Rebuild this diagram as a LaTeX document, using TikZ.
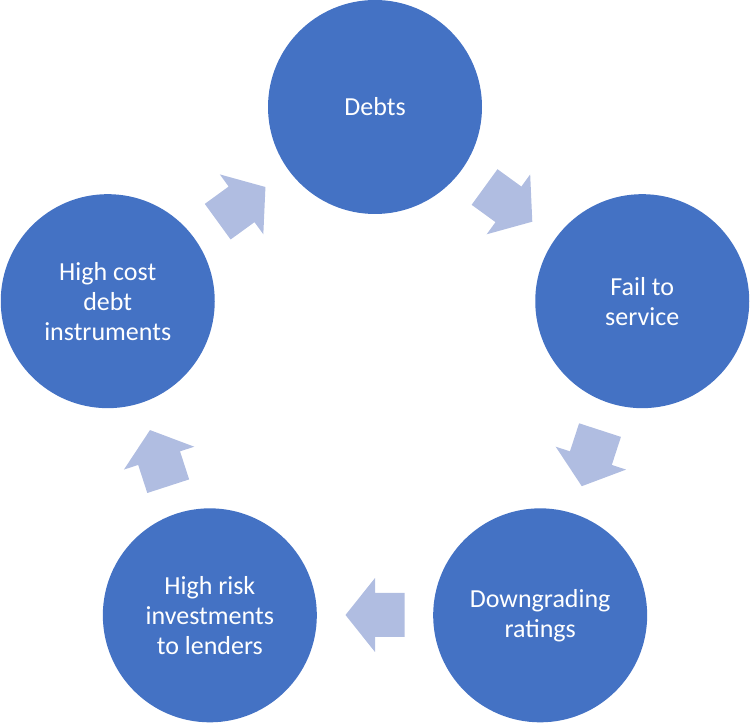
\documentclass[tikz,border=0pt]{standalone}
\usepackage{fontspec}
\setmainfont{Carlito}
\usetikzlibrary{calc}
\definecolor{circblue}{HTML}{4472C4}
\definecolor{arrblue}{HTML}{B0BDE1}
\begin{document}
\begin{tikzpicture}[x=1pt,y=1pt,
  stage/.style={circle, fill=circblue, draw=none, minimum size=214pt, inner sep=0pt,
    text=white, align=center, font=\fontsize{26}{30}\selectfont},
  cyclearrow/.style={fill=arrblue, draw=none}]
\useasboundingbox (0,0) rectangle (750,723);
\coordinate (ctr) at (375,335);
\node[stage] (debts)   at ($(ctr)+(90:281)$)   {Debts};
\node[stage] (fail)    at ($(ctr)+(18:281)$)   {Fail to\\service};
\node[stage] (down)    at ($(ctr)+(-54:281)$)  {Downgrading\\ratings};
\node[stage] (risk)    at ($(ctr)+(-126:281)$) {High risk\\investments\\to lenders};
\node[stage] (cost)    at ($(ctr)+(162:281)$)  {High cost\\debt\\instruments};
\foreach \a/\n in {54/a1,-18/a2,-90/a3,-162/a4,126/a5}{
  \coordinate (\n) at ($(ctr)+(\a:227)$);
  \fill[cyclearrow, shift={(\n)}, rotate=\a-90]
    (-29.5,22) -- (0,22) -- (0,37) -- (29.5,0) -- (0,-37) -- (0,-22) -- (-29.5,-22) -- cycle;
}
\end{tikzpicture}
\end{document}
